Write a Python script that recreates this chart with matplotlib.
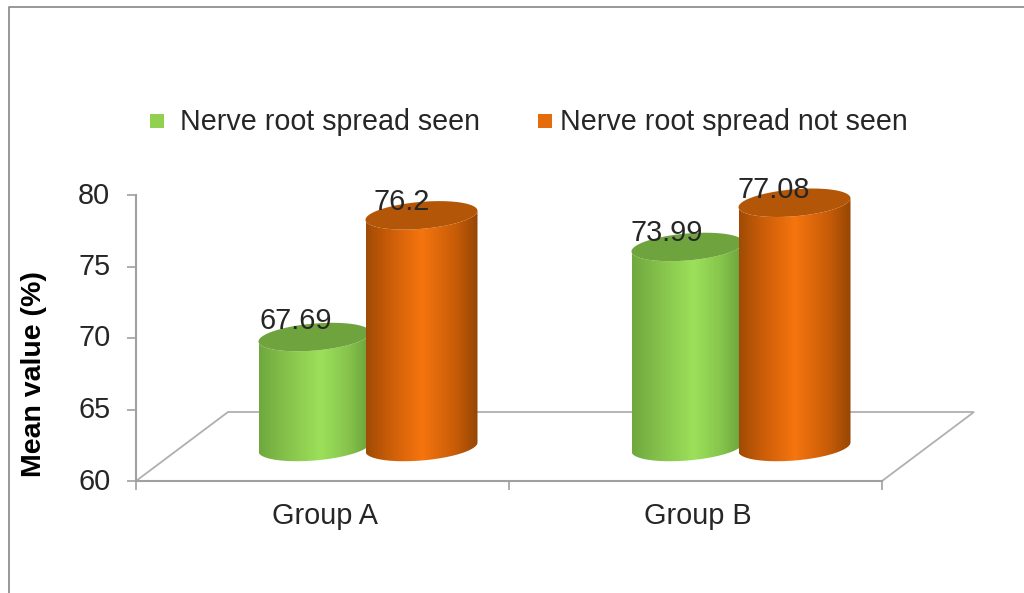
import numpy as np
import matplotlib
matplotlib.use("Agg")
import matplotlib.pyplot as plt
from matplotlib.colors import LinearSegmentedColormap
from matplotlib.patches import PathPatch, Polygon, Rectangle
from matplotlib.path import Path
from matplotlib.transforms import ScaledTranslation

plt.rcParams["font.family"] = ["Liberation Sans", "DejaVu Sans"]

GROUPS = ["Group A", "Group B"]
SERIES = ["Nerve root spread seen", "Nerve root spread not seen"]
SEEN = [67.69, 73.99]
NOT_SEEN = [76.2, 77.08]
Y_TICKS = [60, 65, 70, 75, 80]

W, H = 1024, 593
# px per data unit on the axes
X_LEFT, X_RIGHT, Y_TOP, Y_BOT = 136, 882, 195, 481
SX = (X_RIGHT - X_LEFT) / 2
SY = (Y_BOT - Y_TOP) / 20

fig = plt.figure(figsize=(W / 100, H / 100), dpi=100, facecolor="white")
ax = fig.add_axes([X_LEFT / W, 1 - Y_BOT / H, (X_RIGHT - X_LEFT) / W, (Y_BOT - Y_TOP) / H])
ax.set_facecolor("none")

GREY = "#a0a0a0"
TEXT = "#262626"
FS = 20.8

# floor of the 3d chart
depth_x = 92 / SX
depth_y = 69 / SY
ax.add_patch(Polygon([(0, 60), (depth_x, 60 + depth_y), (2 + depth_x, 60 + depth_y), (2, 60)],
                     closed=True, fc="white", ec="#b0b0b0", lw=1.3, clip_on=False, zorder=1))

green_cm = LinearSegmentedColormap.from_list("g", [(0, "#6fa83e"), (0.18, "#80bb48"), (0.55, "#9ce05a"),
                                                   (0.8, "#86c44c"), (1, "#699f3a")])
orange_cm = LinearSegmentedColormap.from_list("o", [(0, "#a04b05"), (0.2, "#c95c08"), (0.5, "#f6750e"),
                                                    (0.8, "#c85c08"), (1, "#954604")])

half_w = 56 / SX
ell_b = 13.5 / SY
ell_k = 4.5 / SY
off_x = 45.5 / SX
off_y = 34 / SY
t = np.linspace(0, 2 * np.pi, 121)


def ellipse(cx, cy, tt):
    return cx + half_w * np.cos(tt), cy + ell_b * np.sin(tt) + ell_k * np.cos(tt)


def cylinder(cx, value, cmap, top_color, z):
    tt = np.linspace(np.pi, 2 * np.pi, 61)
    bx, by = ellipse(cx, 60 + off_y, tt)
    ux, uy = ellipse(cx, value + off_y, tt[::-1])
    verts = np.column_stack([np.r_[bx, ux], np.r_[by, uy]])
    clip = PathPatch(Path(np.vstack([verts, verts[0]])), fc="none", ec="none",
                     transform=ax.transData, clip_on=False)
    ax.add_patch(clip)
    grad = cmap(np.linspace(0, 1, 256))[None, :, :]
    im = ax.imshow(grad, extent=[cx - half_w, cx + half_w, 60, value + off_y + ell_b * 2],
                   aspect="auto", zorder=z, interpolation="bilinear")
    im.set_clip_path(clip)
    x, y = ellipse(cx, value + off_y, t)
    ax.fill(x, y, color=top_color, zorder=z + 0.1, clip_on=False, lw=0)


group_x = np.array([0.5, 1.5])
spacing = 107 / SX / 2
# label shift from the cap centre, in pixels
label_shift = [[(-19, 16), (-21, 14)], [(-20, 13), (-21, 13)]]
for s, (vals, cm, top) in enumerate([(SEEN, green_cm, "#6ea33e"), (NOT_SEEN, orange_cm, "#b35607")]):
    for g, v in enumerate(vals):
        cx = group_x[g] + off_x + (s * 2 - 1) * spacing
        cylinder(cx, v, cm, top, 3 + s * 2)
        dx, dy = label_shift[s][g]
        ax.annotate(str(v), (cx, v + off_y), xytext=(dx * 0.72, dy * 0.72), textcoords="offset points",
                    ha="center", va="center", fontsize=FS, color=TEXT, zorder=8, annotation_clip=False)

ax.set_xlim(0, 2)
ax.set_ylim(60, 80)
ax.set_yticks(Y_TICKS)
ax.set_xticks([0, 1, 2])
ax.set_xticklabels([])
ax.set_xticks(group_x, GROUPS, minor=True)
ax.tick_params(axis="y", length=6.5, width=1.2, color=GREY, labelsize=FS, labelcolor=TEXT, pad=12)
ax.tick_params(axis="x", which="major", length=6.5, width=1.2, color=GREY)
ax.tick_params(axis="x", which="minor", length=0, labelsize=FS, labelcolor=TEXT, pad=15)
for lab in ax.get_yticklabels():
    lab.set_transform(lab.get_transform() + ScaledTranslation(0, 2.5 / 100, fig.dpi_scale_trans))
for lab in ax.get_xticklabels(minor=True):
    lab.set_transform(lab.get_transform() + ScaledTranslation(2 / 100, 0, fig.dpi_scale_trans))
for side in ["top", "right"]:
    ax.spines[side].set_visible(False)
for side in ["left", "bottom"]:
    ax.spines[side].set_color(GREY)
    ax.spines[side].set_linewidth(1.5)
ax.set_ylabel("Mean value (%)", fontsize=20.5, fontweight="bold", color="black")
ax.yaxis.set_label_coords((47 - X_LEFT) / (X_RIGHT - X_LEFT), (Y_BOT - 374) / (Y_BOT - Y_TOP))

# legend
fig.add_artist(Rectangle((150 / W, 1 - 128 / H), 14 / W, 14 / H, fc="#92d050", ec="none", transform=fig.transFigure))
fig.add_artist(Rectangle((538 / W, 1 - 128 / H), 14 / W, 14 / H, fc="#e46c0a", ec="none", transform=fig.transFigure))
fig.text(180 / W, 1 - 122 / H, SERIES[0], fontsize=20.6, color=TEXT, va="center")
fig.text(560 / W, 1 - 122 / H, SERIES[1], fontsize=20.6, color=TEXT, va="center")

# outer chart border
fig.add_artist(plt.Line2D([9 / W, 9 / W, 1], [0, 1 - 7 / H, 1 - 7 / H], color="#868686", lw=1.2,
                          transform=fig.transFigure))

fig.savefig("out.png", dpi=100)
